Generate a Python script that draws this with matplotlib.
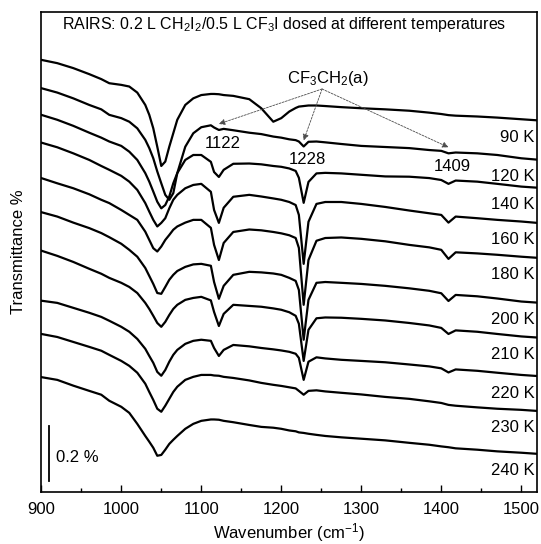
import matplotlib
matplotlib.use('Agg')
import matplotlib.pyplot as plt

# wavenumber grid (cm-1) shared by all spectra
WAVENUMBER = [900, 920, 940, 960, 975, 985,
              1000, 1010, 1020, 1030, 1035, 1040, 1045, 1050, 1055, 1060, 1065, 1070,
              1080, 1090, 1100,
              1112, 1116, 1122, 1128, 1140,
              1160, 1175, 1190, 1200, 1210,
              1218, 1222, 1228, 1234, 1244,
              1255, 1275, 1300, 1330, 1360,
              1385, 1400, 1409, 1418, 1445,
              1470, 1500, 1520]

# stacked transmittance (%), one list per dosing temperature
T_90 = [1.573, 1.561, 1.543, 1.521, 1.503, 1.488,
        1.482, 1.476, 1.454, 1.409, 1.373, 1.324, 1.257, 1.187, 1.203, 1.257, 1.306, 1.355,
        1.409, 1.433, 1.445,
        1.449, 1.449, 1.448, 1.445, 1.442,
        1.430, 1.397, 1.348, 1.361, 1.385,
        1.398, 1.403, 1.405, 1.407, 1.407,
        1.405, 1.401, 1.397, 1.393, 1.388,
        1.381, 1.376, 1.372, 1.370, 1.367,
        1.363, 1.357, 1.353]
T_120 = [1.470, 1.454, 1.433, 1.409, 1.393, 1.373,
         1.361, 1.348, 1.324, 1.282, 1.252, 1.215, 1.167, 1.124, 1.082, 1.064, 1.088, 1.161,
         1.257, 1.306, 1.328,
         1.335, 1.327, 1.318, 1.322, 1.317,
         1.308, 1.303, 1.294, 1.290, 1.284,
         1.281, 1.276, 1.258, 1.275, 1.276,
         1.273, 1.267, 1.260, 1.256, 1.252,
         1.245, 1.242, 1.233, 1.236, 1.233,
         1.227, 1.215, 1.210]
T_140 = [1.373, 1.355, 1.333, 1.308, 1.290, 1.276,
         1.260, 1.239, 1.209, 1.161, 1.130, 1.094, 1.057, 1.033, 1.045, 1.076, 1.124, 1.161,
         1.209, 1.227, 1.227,
         1.202, 1.165, 1.147, 1.173, 1.195,
         1.196, 1.193, 1.187, 1.184, 1.178,
         1.169, 1.144, 1.053, 1.129, 1.160,
         1.162, 1.160, 1.155, 1.149, 1.148,
         1.143, 1.136, 1.122, 1.134, 1.130,
         1.122, 1.112, 1.108]
T_160 = [1.272, 1.255, 1.233, 1.209, 1.187, 1.173,
         1.151, 1.130, 1.100, 1.052, 1.021, 0.991, 0.967, 0.980, 0.997, 1.033, 1.064, 1.082,
         1.106, 1.118, 1.122,
         1.093, 1.027, 0.980, 1.035, 1.075,
         1.082, 1.076, 1.069, 1.064, 1.056,
         1.045, 1.009, 0.831, 0.984, 1.049,
         1.056, 1.056, 1.049, 1.038, 1.025,
         1.015, 1.009, 0.981, 1.003, 0.997,
         0.991, 0.985, 0.980]
T_180 = [1.143, 1.124, 1.106, 1.084, 1.064, 1.052,
         1.027, 1.009, 0.991, 0.948, 0.918, 0.888, 0.876, 0.894, 0.918, 0.936, 0.955, 0.967,
         0.981, 0.991, 0.991,
         0.962, 0.900, 0.845, 0.907, 0.947,
         0.956, 0.953, 0.947, 0.942, 0.935,
         0.925, 0.889, 0.682, 0.845, 0.915,
         0.925, 0.927, 0.922, 0.913, 0.900,
         0.891, 0.882, 0.849, 0.873, 0.869,
         0.864, 0.857, 0.853]
T_200 = [1.019, 1.003, 0.981, 0.961, 0.943, 0.928,
         0.904, 0.882, 0.857, 0.816, 0.787, 0.758, 0.725, 0.722, 0.747, 0.773, 0.791, 0.805,
         0.820, 0.829, 0.831,
         0.824, 0.765, 0.704, 0.751, 0.791,
         0.802, 0.800, 0.796, 0.791, 0.780,
         0.769, 0.736, 0.555, 0.700, 0.762,
         0.765, 0.762, 0.758, 0.751, 0.742,
         0.733, 0.724, 0.696, 0.718, 0.713,
         0.705, 0.694, 0.690]
T_210 = [0.879, 0.860, 0.838, 0.813, 0.795, 0.780,
         0.762, 0.747, 0.725, 0.689, 0.667, 0.642, 0.616, 0.602, 0.620, 0.645, 0.667, 0.682,
         0.700, 0.707, 0.711,
         0.698, 0.656, 0.605, 0.649, 0.682,
         0.678, 0.675, 0.669, 0.664, 0.655,
         0.642, 0.613, 0.478, 0.591, 0.633,
         0.636, 0.635, 0.631, 0.625, 0.616,
         0.607, 0.598, 0.576, 0.589, 0.584,
         0.576, 0.567, 0.563]
T_220 = [0.697, 0.689, 0.671, 0.653, 0.638, 0.624,
         0.602, 0.584, 0.558, 0.522, 0.496, 0.471, 0.438, 0.424, 0.445, 0.475, 0.500, 0.518,
         0.540, 0.551, 0.555,
         0.551, 0.525, 0.496, 0.518, 0.536,
         0.531, 0.525, 0.520, 0.516, 0.511,
         0.504, 0.489, 0.409, 0.475, 0.491,
         0.487, 0.482, 0.478, 0.473, 0.465,
         0.458, 0.451, 0.436, 0.447, 0.442,
         0.435, 0.427, 0.423]
T_230 = [0.576, 0.565, 0.547, 0.529, 0.515, 0.500,
         0.478, 0.460, 0.435, 0.395, 0.365, 0.336, 0.304, 0.293, 0.315, 0.340, 0.365, 0.384,
         0.409, 0.420, 0.427,
         0.427, 0.425, 0.424, 0.420, 0.416,
         0.407, 0.398, 0.391, 0.387, 0.382,
         0.378, 0.369, 0.355, 0.369, 0.371,
         0.367, 0.362, 0.356, 0.347, 0.340,
         0.331, 0.325, 0.318, 0.315, 0.309,
         0.304, 0.300, 0.296]
T_240 = [0.419, 0.409, 0.388, 0.369, 0.355, 0.333,
         0.311, 0.289, 0.249, 0.205, 0.184, 0.162, 0.133, 0.136, 0.155, 0.176, 0.191, 0.205,
         0.231, 0.249, 0.260,
         0.265, 0.265, 0.264, 0.260, 0.255,
         0.245, 0.238, 0.235, 0.231, 0.225,
         0.222, 0.218, 0.216, 0.213, 0.209,
         0.205, 0.200, 0.195, 0.189, 0.180,
         0.173, 0.167, 0.164, 0.160, 0.155,
         0.149, 0.144, 0.140]

SPECTRA = [T_90, T_120, T_140, T_160, T_180, T_200, T_210, T_220, T_230, T_240]
TEMP_LABELS = ['90 K', '120 K', '140 K', '160 K', '180 K',
               '200 K', '210 K', '220 K', '230 K', '240 K']

# CF3CH2(a) bands marked on the 120 K spectrum
PEAKS = [1122, 1228, 1409]
PEAK_LABELS = ['1122', '1228', '1409']


def main():
    plt.rcParams['font.family'] = ['Liberation Sans', 'DejaVu Sans']
    plt.rcParams['mathtext.default'] = 'regular'

    fig = plt.figure(figsize=(5.41, 5.44), dpi=100)
    ax = fig.add_axes([0.0763, 0.095, 0.9168, 0.8829])

    for t in SPECTRA:
        ax.plot(WAVENUMBER, t, color='black', lw=1.6, solid_joinstyle='round')

    # temperature labels under the right end of each trace
    for t, lab in zip(SPECTRA, TEMP_LABELS):
        ax.text(1517, t[-1] - 0.062, lab, ha='right', va='center', fontsize=12)

    # arrows from the species label down to the 120 K bands
    ax.text(1258, 1.504, 'CF$_3$CH$_2$(a)', ha='center', va='center', fontsize=12)
    for w, lab in zip(PEAKS, PEAK_LABELS):
        y = T_120[WAVENUMBER.index(w)]
        ax.annotate('', xy=(w, y + 0.022), xytext=(1251, 1.467),
                    arrowprops=dict(arrowstyle='-|>', color='0.3', lw=0.6,
                                    linestyle=(0, (2.5, 1.5)), mutation_scale=9,
                                    shrinkA=0, shrinkB=0))
        ax.text(w + 5, y - 0.048, lab, ha='center', va='center', fontsize=12)

    # 0.2 % scale bar
    ax.plot([910, 910], [0.04, 0.24], color='black', lw=1.3)
    ax.text(918, 0.127, '0.2 %', ha='left', va='center', fontsize=12)

    ax.text(0.49, 0.975, 'RAIRS: 0.2 L CH$_2$I$_2$/0.5 L CF$_3$I dosed at different temperatures',
            transform=ax.transAxes, ha='center', va='center', fontsize=11.5)

    ax.set_xlim(900, 1520)
    ax.set_ylim(0, 1.747)
    ax.set_xticks(range(900, 1501, 100))
    ax.set_xticks(range(950, 1501, 100), minor=True)
    ax.set_yticks([])
    ax.tick_params(axis='x', which='major', direction='in', length=5, width=1, labelsize=12, pad=7)
    ax.tick_params(axis='x', which='minor', direction='in', length=3, width=1)
    for s in ax.spines.values():
        s.set_linewidth(1.2)

    ax.set_xlabel('Wavenumber (cm$^{-1}$)', fontsize=12, labelpad=3)
    ax.set_ylabel('Transmittance %', fontsize=12, labelpad=11)

    fig.savefig('out.png', dpi=100)


if __name__ == "__main__":
    main()
